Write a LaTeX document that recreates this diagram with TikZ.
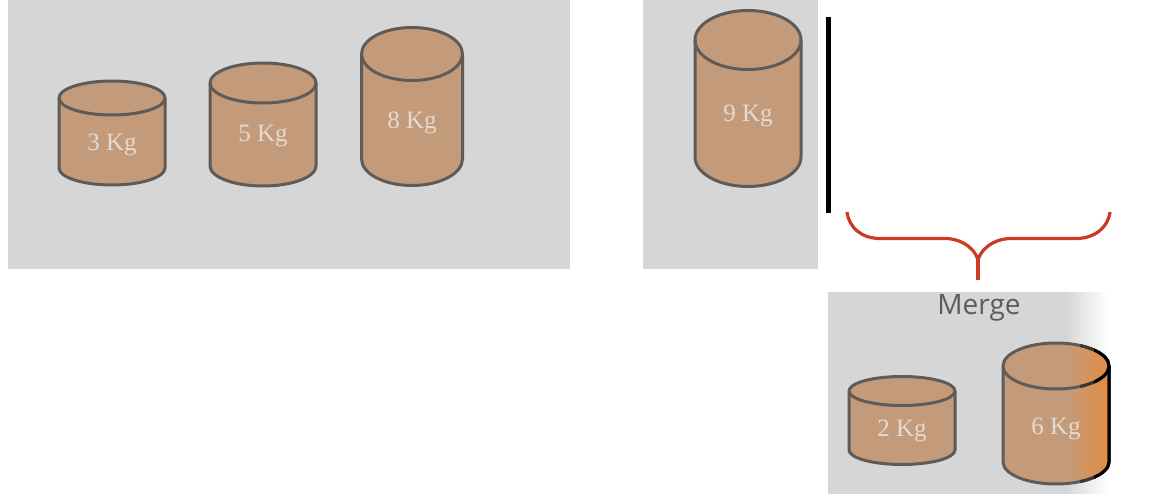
\documentclass[tikz,border=0pt]{standalone}
\usepackage{fontspec}
\setmainfont{Liberation Serif}
\newfontfamily\mergefont{Open Sans}
\definecolor{panelgray}{HTML}{D6D6D6}
\definecolor{body}{HTML}{C49B7A}
\definecolor{rim}{HTML}{5F5B58}
\definecolor{hot}{HTML}{DE8E48}
\definecolor{labeltxt}{HTML}{E3DBD3}
\definecolor{bracered}{HTML}{CC3A24}
\tikzset{
  panel/.style={fill=panelgray,draw=none},
  cylline/.style={draw=rim,line width=3pt,line join=round},
  kglabel/.style={text=labeltxt,font=\fontsize{25}{27}\selectfont,inner sep=0pt,anchor=center},
  bracecurve/.style={draw=bracered,line width=3.2pt},
  mergelabel/.style={text=rim,font=\mergefont\fontsize{28}{30}\selectfont,inner sep=0pt,anchor=center}
}
% name, cx, half width, top ellipse centre y, ry, bottom ellipse centre y, label y, label
\newcommand{\drum}[8]{%
  \fill[body] (#2-#3,#4) arc[start angle=180,end angle=360,x radius=#3,y radius=#5] -- (#2+#3,#6) arc[start angle=0,end angle=180,x radius=#3,y radius=#5] -- cycle;
  \draw[cylline] (#2-#3,#4) arc[start angle=180,end angle=-180,x radius=#3,y radius=#5];
  \draw[cylline] (#2-#3,#4) -- (#2-#3,#6) arc[start angle=180,end angle=0,x radius=#3,y radius=#5] -- (#2+#3,#4);
  \node[kglabel] (#1) at (#2,#7) {#8};
}
\begin{document}
\begin{tikzpicture}[x=1pt,y=-1pt]
\useasboundingbox (0,0) rectangle (1156,494);
\fill[white] (0,0) rectangle (1156,494);
\fill[panel] (8,0) rectangle (569.5,269);
\fill[panel] (643,0) rectangle (818,269);
\fill[panel] (828,292) rectangle (1066,494);
\shade[left color=panelgray,right color=white,shading angle=90] (1065.5,292) rectangle (1108,494);

\drum{a}{112}{53}{98}{17}{168}{144.5}{3 Kg}
\drum{b}{263}{53}{83}{20}{166}{136.5}{5 Kg}
\drum{c}{412}{50.5}{54}{26.5}{159}{122.5}{8 Kg}
\drum{d}{748}{53}{40}{29.5}{157}{115.5}{9 Kg}
\drum{e}{902}{53}{391}{14.5}{450}{430.5}{2 Kg}

% 6 Kg cylinder: body, then orange fade and dark rim on the right
\fill[body] (1003,366) arc[start angle=180,end angle=360,x radius=53,y radius=23] -- (1109,462) arc[start angle=0,end angle=180,x radius=53,y radius=22] -- cycle;
\begin{scope}
  \clip (1003,366) arc[start angle=180,end angle=360,x radius=53,y radius=23] -- (1109,462) arc[start angle=0,end angle=180,x radius=53,y radius=22] -- cycle;
  \shade[left color=body,right color=hot,shading angle=90] (1066,340) rectangle (1104,490);
  \fill[hot] (1103.5,340) rectangle (1112,490);
\end{scope}
\draw[cylline] (1003,366) arc[start angle=180,end angle=-180,x radius=53,y radius=23];
\draw[cylline] (1003,366) -- (1003,462) arc[start angle=180,end angle=0,x radius=53,y radius=22] -- (1109,366);
\begin{scope}
  \clip (1080,335) rectangle (1115,490);
  \draw[draw=rim!60!black,line width=3pt] (1003,366) arc[start angle=180,end angle=-180,x radius=53,y radius=23];
  \draw[draw=rim!60!black,line width=3pt] (1003,462) arc[start angle=180,end angle=0,x radius=53,y radius=22] -- (1109,366);
\end{scope}
\begin{scope}
  \clip (1094,335) rectangle (1115,490);
  \draw[draw=black,line width=3pt] (1003,366) arc[start angle=180,end angle=-180,x radius=53,y radius=23];
  \draw[draw=black,line width=3pt] (1003,462) arc[start angle=180,end angle=0,x radius=53,y radius=22] -- (1109,366);
\end{scope}
\node[kglabel] (f) at (1056,428.5) {6 Kg};

\fill[black] (826,17) rectangle (831,213);

\draw[bracecurve] (847,212) .. controls (849,228) and (862,238.5) .. (880,238.5) -- (945,238.5) .. controls (964,238.5) and (978,252) .. (978,262) .. controls (978,252) and (992,238.5) .. (1011,238.5) -- (1076,238.5) .. controls (1094,238.5) and (1108,228) .. (1110,212);
\draw[bracecurve] (978,260) -- (978,280);

\node[mergelabel] (m) at (979,308) {Merge};
\end{tikzpicture}
\end{document}
